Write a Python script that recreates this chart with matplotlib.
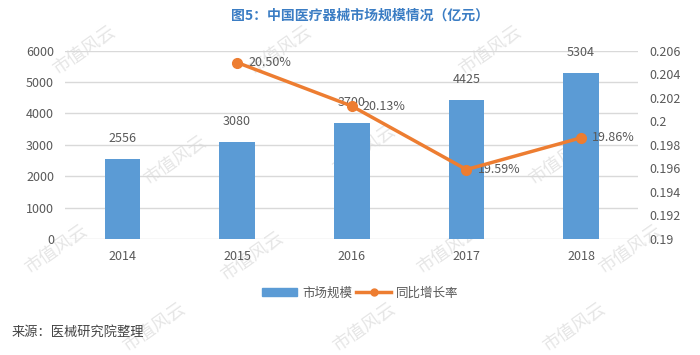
import matplotlib.pyplot as plt
from matplotlib.ticker import FuncFormatter
from matplotlib.lines import Line2D
from matplotlib.patches import Patch

plt.rcParams['font.family'] = ['Noto Sans CJK SC', 'DejaVu Sans']

years = ['2014', '2015', '2016', '2017', '2018']
market = [2556, 3080, 3700, 4425, 5304]
growth_years = ['2015', '2016', '2017', '2018']
growth = [0.2050, 0.2013, 0.1959, 0.1986]

blue = '#5B9BD5'
orange = '#ED7D31'
grey = '#595959'

fig = plt.figure(figsize=(7, 3.55), dpi=100)

# faint watermark, drawn behind everything
for wx, wy in [(0.12, 0.86), (0.40, 0.86), (0.70, 0.86), (0.25, 0.55), (0.52, 0.58),
               (0.80, 0.55), (0.08, 0.30), (0.36, 0.28), (0.64, 0.30), (0.90, 0.30),
               (0.22, 0.08), (0.52, 0.08), (0.82, 0.08)]:
    fig.text(wx, wy, '市值风云', rotation=35, fontsize=13, color='#e6e6e6', ha='center',
             va='center', zorder=-1)

ax = fig.add_axes([0.093, 0.327, 0.819, 0.530])
ax.patch.set_alpha(0)
x = list(range(len(years)))
ax.bar(x, market, width=0.31, color=blue, zorder=3)
for xi, v in zip(x, market):
    ax.annotate(str(v), (xi, v), xytext=(0, 10), textcoords='offset points',
                ha='center', va='bottom', fontsize=9, color=grey)
ax.set_ylim(0, 6000)
ax.set_yticks(range(0, 6001, 1000))
ax.set_xlim(-0.5, len(years) - 0.5)
ax.set_xticks(x)
ax.set_xticklabels(years)
ax.grid(axis='y', color='#d9d9d9', linewidth=1, zorder=0)
for s in ax.spines.values():
    s.set_visible(False)
ax.tick_params(length=0, labelsize=9, colors=grey, pad=8)

ax2 = ax.twinx()
gx = [years.index(y) for y in growth_years]
ax2.plot(gx, growth, color=orange, lw=2.5, marker='o', ms=7, zorder=4)
for xi, v in zip(gx, growth):
    ax2.annotate('%.2f%%' % (v * 100), (xi, v), xytext=(8, 0), textcoords='offset points',
                 ha='left', va='center', fontsize=9, color=grey)
ax2.set_ylim(0.19, 0.206)
ax2.set_yticks([0.19 + 0.002 * i for i in range(9)])
ax2.yaxis.set_major_formatter(FuncFormatter(lambda v, p: '%g' % round(v, 3)))
for s in ax2.spines.values():
    s.set_visible(False)
ax2.tick_params(length=0, labelsize=9, colors=grey, pad=8)

fig.text(0.515, 0.955, '图5：中国医疗器械市场规模情况（亿元）', ha='center', va='center',
         fontsize=10, fontweight='bold', color='#3B7DC4')

handles = [Patch(color=blue), Line2D([0], [0], color=orange, lw=2.5, marker='o', ms=5)]
fig.legend(handles, ['市场规模', '同比增长率'], loc='center', bbox_to_anchor=(0.515, 0.175),
           ncol=2, frameon=False, fontsize=9, labelcolor=grey, handlelength=2.8,
           columnspacing=0.3, handletextpad=0.4)

fig.text(0.017, 0.065, '来源：医械研究院整理', ha='left', va='center', fontsize=9.5, color='#444444')

fig.savefig('out.png', dpi=100)
